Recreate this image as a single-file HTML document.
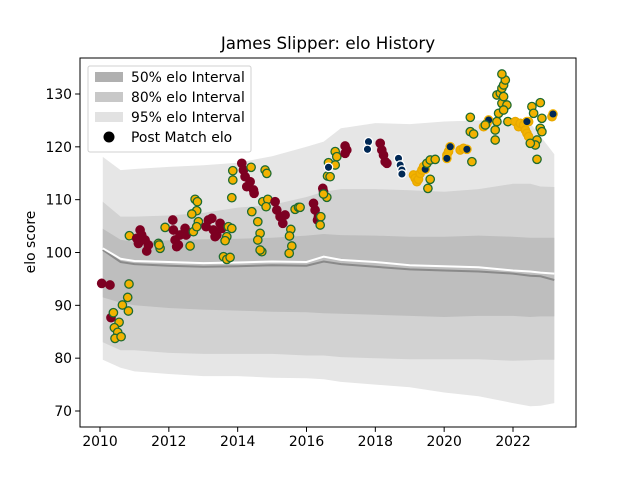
<!DOCTYPE html>
<html><head><meta charset="utf-8"><style>
body{margin:0;background:#fff;}
svg text{font-family:"DejaVu Sans","Liberation Sans",sans-serif;}
</style></head><body>
<svg id="chart" width="640" height="480" xmlns="http://www.w3.org/2000/svg">
<rect width="640" height="480" fill="#fff"/>
<text x="328" y="49" font-size="16.7" text-anchor="middle">James Slipper: elo History</text>
<text transform="translate(35,242) rotate(-90)" font-size="13.9" text-anchor="middle">elo score</text>
<g id="plot"></g>
<g id="axes"></g>
<g>
<rect x="88" y="66" width="163" height="86" rx="2" fill="#fff" fill-opacity="0.8" stroke="#d0d0d0"/>
<rect x="95" y="72" width="28" height="10" fill="#b0b0b0"/>
<text x="131" y="82" font-size="13.9">50% elo Interval</text>
<rect x="95" y="92" width="28" height="10" fill="#c8c8c8"/>
<text x="131" y="102" font-size="13.9">80% elo Interval</text>
<rect x="95" y="112" width="28" height="10" fill="#e2e2e2"/>
<text x="131" y="122" font-size="13.9">95% elo Interval</text>
<circle cx="109" cy="137" r="5.5" fill="#000"/>
<text x="131" y="142" font-size="13.9">Post Match elo</text>
</g>
</svg>
<script>
const bandYears=[2010.08,2010.6,2011,2012,2013,2014,2015,2016,2016.5,2017,2018,2019,2020,2021,2022,2022.5,2022.8,2023.2];
const top95=[118.1,115.6,115.8,116.2,116.5,117,118.2,120,121,123.5,124.5,124.3,124.8,125,125,124.5,122,118.6];
const top80=[109.6,106.8,106.8,107,107.5,108.5,109,110.5,111.5,112,112,111.8,111.5,112,113,113,112.5,112.4];
const top50=[104.5,102.4,102,102.3,102.5,102.6,102.8,103.2,103.5,103.3,103.2,103,103,103.2,103,102.8,102.8,102.8];
const bot50=[91.5,90.5,90,89.5,89.2,89,88.8,88.7,88.5,88.4,88.2,88,87.8,88,88,87.8,87.9,87.9];
const bot80=[83,81.5,81.5,81,80.8,80.8,80.8,80.5,80.5,80.2,80,79.8,79.8,79.8,79.5,79.6,79.7,79.7];
const bot95=[79.7,78.2,77.5,77,76.6,76.6,76.3,76.2,76,75.5,75,74.5,73.5,72.8,71.5,70.9,71,71.5];
const medA=[100.8,98.8,98.4,98.2,98,98.1,98.3,98.2,99.2,98.6,98.2,97.6,97.4,97.2,96.6,96.4,96.2,96];
const medB=[100.5,98.2,97.8,97.5,97.3,97.4,97.6,97.5,98.3,97.8,97.3,96.8,96.6,96.4,96,95.6,95.5,94.8];
const ptYears=[],ptVals=[],ptTypes=[];
const raw=[
"M",65,490,"M",90,495,"M",93,593,
"G",147,492,"G",143,532,"G",127,555,"G",145,573,"G",100,578,"G",117,607,"G",103,623,"G",113,637,"G",105,655,"G",123,650,
"G",148,347,"M",180,330,"M",185,345,"M",175,370,"M",195,360,"M",205,375,"M",200,393,"M",170,355,"G",235,370,"G",240,385,"G",237,375,
"G",255,322,"M",278,300,"M",280,330,"M",285,360,"M",295,375,"M",300,345,"M",315,325,"M",318,345,"M",290,380,"G",330,378,"G",340,335,"G",345,238,"G",352,245,"G",350,272,"G",335,282,"G",355,305,"G",350,320,
"M",385,300,"M",395,295,"M",378,320,"M",400,330,"M",410,345,"M",420,310,"M",425,325,"M",405,350,"G",445,320,"G",455,325,"G",440,350,"G",435,362,"G",430,410,"G",440,418,"G",450,412,
"G",458,152,"G",458,180,"G",455,233,"M",485,130,"M",490,150,"M",495,170,"M",500,200,"M",510,185,"M",520,210,"M",522,220,"G",513,142,"G",515,275,"G",533,305,"G",540,340,"G",533,360,"G",545,395,"G",540,390,
"G",555,150,"G",560,160,"G",548,245,"G",563,238,"G",558,260,"M",585,245,"M",590,270,"M",600,290,"M",608,310,"M",615,285,"G",632,328,"G",628,348,"G",635,378,"G",627,400,"G",645,268,"G",655,262,"G",660,262,
"M",700,250,"M",705,270,"M",715,290,"M",712,300,"M",728,205,"M",730,215,"G",722,290,"G",720,315,"G",740,232,"G",730,222,
"G",745,128,"G",742,168,"G",750,170,"G",765,95,"G",770,110,"G",765,135,"N",745,142,"M",795,78,"M",800,90,"M",795,100,
"N",865,65,"N",862,88,"M",900,70,"M",905,90,"M",910,105,"M",915,125,"M",920,130,
"N",955,115,"N",960,135,"N",965,150,"N",965,162,
"O",1000,165,"O",1005,175,"O",1010,185,"O",1015,178,"O",1020,160,"O",1025,150,"O",1030,140,"Y",1035,148,"G",1040,130,"G",1050,120,"G",1065,118,"G",1050,178,"G",1043,205,
"O",1100,105,"O",1105,95,"Y",1100,115,"Y",1110,80,"O",1140,90,"O",1150,85,"Y",1160,88,"G",1175,125
];
const raw2=[
"G",330,172,"G",330,215,"G",340,222,"O",370,200,"O",380,190,"Y",385,180,"G",375,195,
"G",405,210,"G",405,240,"G",410,185,"G",415,160,"G",410,105,"G",420,100,"G",425,130,"G",430,110,"G",425,85,"G",430,75,"G",435,60,"G",425,42,"G",440,135,"G",430,150,"G",443,185,
"O",465,185,"O",475,200,"O",480,190,"O",490,195,"O",495,210,"O",500,220,"O",505,230,"O",505,185,"Y",500,185,
"G",515,140,"G",520,160,"G",540,128,"G",545,175,"G",530,240,"G",525,255,"G",510,250,"G",540,205,"G",545,215,"G",530,298,"O",575,170,"Y",578,162
];
for(let i=0;i<raw.length;i+=3){ptTypes.push(raw[i]);ptYears.push(+(2009.42+raw[i+1]/103.2).toFixed(3));ptVals.push(+(125.08-raw[i+2]*0.0631).toFixed(2));}
for(let i=0;i<raw2.length;i+=3){ptTypes.push(raw2[i]);ptYears.push(+(2017.56+raw2[i+1]*0.00969).toFixed(3));ptVals.push(+(136.44-raw2[i+2]*0.0631).toFixed(2));}
const xTicks=[2010,2012,2014,2016,2018,2020,2022];
const yTicks=[70,80,90,100,110,120,130];

const L=80,R=576,T=58,B=427;
const X=y=>100+(y-2010)*413/12;
const Y=v=>411-(v-70)*317/60;
const NS="http://www.w3.org/2000/svg";
const plot=document.getElementById('plot'),axes=document.getElementById('axes');
function mk(tag,attrs,parent){const e=document.createElementNS(NS,tag);for(const k in attrs)e.setAttribute(k,attrs[k]);parent.appendChild(e);return e;}
function band(up,lo,fill,name){
  let d='M'+bandYears.map((y,i)=>X(y).toFixed(1)+','+Y(up[i]).toFixed(1)).join('L');
  for(let i=bandYears.length-1;i>=0;i--)d+='L'+X(bandYears[i]).toFixed(1)+','+Y(lo[i]).toFixed(1);
  const p=mk('path',{d:d+'Z',fill:fill},plot);
  
  
}
band(top95,bot95,'#e6e6e6','band-95');
band(top80,bot80,'#d2d2d2','band-80');
band(top50,bot50,'#bebebe','band-50');
function line(arr,col,name){
  const p=mk('polyline',{points:bandYears.map((y,i)=>X(y).toFixed(1)+','+Y(arr[i]).toFixed(1)).join(' '),fill:'none',stroke:col,'stroke-width':2},plot);
  
  
}
line(medB,'#8a8a8a','median-line-grey');
line(medA,'#ffffff','median-line-white');
const sty={M:['#7d0022','#7d0022'],G:['#f2b200','#1e6b30'],N:['#002855','#ffffff'],Y:['#002855','#f2b200'],O:['#f2b200','#e8a800']};
ptTypes.forEach((t,i)=>{
  const c=mk('circle',{cx:X(ptYears[i]).toFixed(1),cy:Y(ptVals[i]).toFixed(1),r:4.2,fill:sty[t][0],stroke:sty[t][1],'stroke-width':1.3},plot);
  
  
});
const fr=mk('rect',{x:L,y:T,width:R-L,height:B-T,fill:'none',stroke:'#000','stroke-width':1},axes);


xTicks.forEach(t=>{
  const x=X(t);
  const l=mk('line',{x1:x,y1:B,x2:x,y2:B+4.9,stroke:'#000'},axes);
  
  
  const tx=mk('text',{x:x,y:B+19,'font-size':13.9,'text-anchor':'middle'},axes);
  tx.textContent=t;
  
  
});
yTicks.forEach(t=>{
  const y=Y(t);
  const l=mk('line',{x1:L-4.9,y1:y,x2:L,y2:y,stroke:'#000'},axes);
  
  
  const tx=mk('text',{x:L-8,y:y+5,'font-size':13.9,'text-anchor':'end'},axes);
  tx.textContent=t;
  
  
});
</script>
</body></html>
